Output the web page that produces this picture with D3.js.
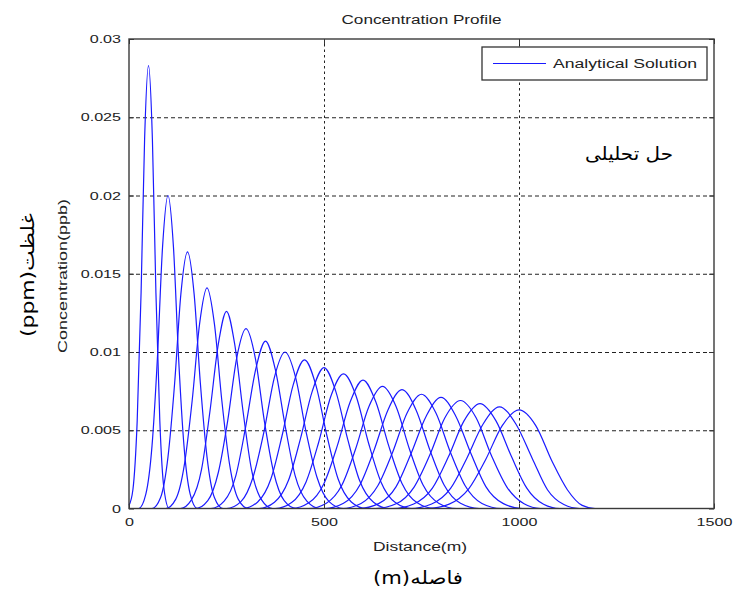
<!DOCTYPE html>
<html>
<head>
<meta charset="utf-8">
<script src="https://cdn.jsdelivr.net/npm/d3@7"></script>
<style>
  html, body { margin: 0; padding: 0; background: #fff; }
  svg { display: block; }
</style>
</head>
<body>
<svg id="chart" width="734" height="592"></svg>
<script>
// ---------------- data ----------------
const xTicks = [0, 500, 1000, 1500];
const xTickLabels = ["0", "500", "1000", "1500"];
const yTicks = [0, 0.005, 0.01, 0.015, 0.02, 0.025, 0.03];
const yTickLabels = ["0", "0.005", "0.01", "0.015", "0.02", "0.025", "0.03"];
const seriesName = "Analytical Solution";

// concentration profiles, [distance (m), concentration] points of each pulse
const profile050 = [[0,0.0002],[10,0.0012],[21,0.0056],[31,0.0138],[40,0.0236],[50,0.0283],[60,0.0236],[69,0.0138],[79,0.0056],[90,0.0012],[103,0]];
const profile100 = [[25,0],[43,0.0009],[59,0.0040],[73,0.0097],[86,0.0167],[100,0.0200],[114,0.0167],[127,0.0097],[141,0.0040],[157,0.0009],[175,0]];
const profile150 = [[59,0],[81,0.0007],[100,0.0033],[117,0.0080],[133,0.0137],[150,0.0164],[167,0.0137],[183,0.0080],[200,0.0033],[219,0.0007],[241,0]];
const profile200 = [[94,0],[120,0.0006],[142,0.0028],[162,0.0069],[181,0.0118],[200,0.0141],[219,0.0118],[238,0.0069],[258,0.0028],[280,0.0006],[306,0]];
const profile250 = [[132,0],[160,0.00055],[186,0.0025],[207,0.0061],[229,0.0105],[250,0.0126],[271,0.0105],[293,0.0061],[314,0.0025],[340,0.00055],[368,0]];
const profile300 = [[171,0],[202,0.0005],[229,0.0023],[253,0.0056],[276,0.0096],[300,0.0115],[324,0.0096],[347,0.0056],[371,0.0023],[398,0.0005],[429,0]];
const profile350 = [[210,0],[244,0.00047],[274,0.0021],[299,0.0052],[325,0.0089],[350,0.0107],[375,0.0089],[401,0.0052],[426,0.0021],[456,0.00047],[490,0]];
const profile400 = [[250,0],[287,0.00044],[318,0.0020],[346,0.0049],[373,0.0084],[400,0.0100],[427,0.0084],[454,0.0049],[482,0.0020],[513,0.00044],[550,0]];
const profile450 = [[292,0],[330,0.00042],[364,0.0019],[392,0.0046],[421,0.0079],[450,0.0095],[479,0.0079],[508,0.0046],[536,0.0019],[570,0.00042],[608,0]];
const profile500 = [[333,0],[373,0.0004],[409,0.0018],[439,0.0044],[470,0.0075],[500,0.0090],[530,0.0075],[561,0.0044],[591,0.0018],[627,0.0004],[667,0]];
const profile550 = [[375,0],[417,0.00038],[454,0.0017],[486,0.0042],[518,0.0072],[550,0.0086],[582,0.0072],[614,0.0042],[646,0.0017],[683,0.00038],[725,0]];
const profile600 = [[417,0],[461,0.00036],[500,0.0016],[534,0.0040],[567,0.0068],[600,0.0082],[633,0.0068],[666,0.0040],[700,0.0016],[739,0.00036],[783,0]];
const profile650 = [[460,0],[506,0.00034],[546,0.0015],[581,0.0038],[615,0.0065],[650,0.0078],[685,0.0065],[719,0.0038],[754,0.0015],[794,0.00034],[840,0]];
const profile700 = [[502,0],[550,0.00033],[592,0.0015],[628,0.0037],[664,0.0063],[700,0.0076],[736,0.0063],[772,0.0037],[808,0.0015],[850,0.00033],[898,0]];
const profile750 = [[545,0],[595,0.00032],[638,0.00145],[676,0.0036],[713,0.0061],[750,0.0073],[787,0.0061],[824,0.0036],[862,0.00145],[905,0.00032],[955,0]];
const profile800 = [[589,0],[640,0.00031],[685,0.0014],[723,0.0035],[762,0.0059],[800,0.0071],[838,0.0059],[877,0.0035],[915,0.0014],[960,0.00031],[1008,0]];
const profile850 = [[632,0],[685,0.0003],[731,0.00137],[771,0.0034],[810,0.0058],[850,0.0069],[890,0.0058],[929,0.0034],[969,0.00137],[1013,0.0003],[1055,0]];
const profile900 = [[676,0],[730,0.00029],[778,0.0013],[819,0.0033],[859,0.0056],[900,0.0067],[941,0.0056],[981,0.0033],[1020,0.0013],[1063,0.00027],[1105,0]];
const profile950 = [[720,0],[776,0.00029],[825,0.0013],[866,0.0032],[908,0.0054],[950,0.0065],[992,0.0054],[1034,0.0032],[1073,0.0012],[1115,0.00025],[1155,0]];
const profile1000 = [[764,0],[821,0.00028],[871,0.00125],[914,0.0031],[957,0.0053],[1000,0.0063],[1043,0.0053],[1085,0.0030],[1124,0.0012],[1162,0.0002],[1195,0]];
const profiles = [profile050, profile100, profile150, profile200, profile250, profile300, profile350,
  profile400, profile450, profile500, profile550, profile600, profile650, profile700, profile750,
  profile800, profile850, profile900, profile950, profile1000];

// ---------------- layout ----------------
const svg = d3.select("#chart");
const L = 129, R = 714, T = 39, B = 508.5;
const W = R - L, H = B - T;
const x = d3.scaleLinear().domain([0, 1500]).range([L, R]);
const y = d3.scaleLinear().domain([0, 0.03]).range([B, T]);
const FONT = "'Liberation Sans', Arial, Helvetica, sans-serif";
const FA_FONT = "'DejaVu Sans', 'Noto Sans', sans-serif";
const SX = 1.4; // text in the reference is drawn wide

// plot background
svg.append("rect").attr("x", L).attr("y", T).attr("width", W).attr("height", H).attr("fill", "#fff");

// grid lines (dashed) through the library's axes
const gridY = svg.append("g").attr("transform", `translate(${L},0)`)
  .call(d3.axisLeft(y).tickValues(yTicks.slice(1, -1)).tickSize(-W).tickFormat(""));
gridY.select(".domain").remove();
gridY.selectAll("line").attr("stroke", "#222").attr("stroke-width", 1).attr("stroke-dasharray", "4,3");
const gridX = svg.append("g").attr("transform", `translate(0,${B})`)
  .call(d3.axisBottom(x).tickValues(xTicks.slice(1, -1)).tickSize(-H).tickFormat(""));
gridX.select(".domain").remove();
gridX.selectAll("line").attr("stroke", "#222").attr("stroke-width", 1).attr("stroke-dasharray", "2.5,3");

// curves
const line = d3.line().x(d => x(d[0])).y(d => y(d[1])).curve(d3.curveMonotoneX);
const curveG = svg.append("g");
profiles.forEach(p => {
  const pts = (p[0][0] > 0 ? [[0, 0]] : []).concat(p, [[1500, 0]]);
  curveG.append("path").datum(pts).attr("d", line)
    .attr("fill", "none").attr("stroke", "#1a1aff").attr("stroke-width", 1.2)
    .attr("stroke-linejoin", "round");
});

// axes with labels
const yAxis = svg.append("g").attr("transform", `translate(${L},0)`)
  .call(d3.axisLeft(y).tickValues(yTicks).tickFormat((d, i) => yTickLabels[i]).tickSizeInner(-5).tickSizeOuter(0).tickPadding(8));
yAxis.select(".domain").remove();
yAxis.selectAll("line").attr("stroke", "#333");
yAxis.selectAll("text").attr("x", null).attr("transform", `translate(-8,0) scale(${SX},1)`)
  .attr("font-family", FONT).attr("font-size", "11.5px").attr("fill", "#222");

const xAxis = svg.append("g").attr("transform", `translate(0,${B})`)
  .call(d3.axisBottom(x).tickValues(xTicks).tickFormat((d, i) => xTickLabels[i]).tickSizeInner(-5).tickSizeOuter(0).tickPadding(9));
xAxis.select(".domain").remove();
xAxis.selectAll("line").attr("stroke", "#333");
xAxis.selectAll("text").attr("y", null).attr("transform", `translate(0,9) scale(${SX},1)`)
  .attr("font-family", FONT).attr("font-size", "11.5px").attr("fill", "#222");

// ticks on top and right sides
const topAxis = svg.append("g").attr("transform", `translate(0,${T})`)
  .call(d3.axisTop(x).tickValues(xTicks).tickSizeInner(-5).tickSizeOuter(0).tickFormat(""));
topAxis.select(".domain").remove();
topAxis.selectAll("line").attr("stroke", "#333");
const rightAxis = svg.append("g").attr("transform", `translate(${R},0)`)
  .call(d3.axisRight(y).tickValues(yTicks).tickSizeInner(-5).tickSizeOuter(0).tickFormat(""));
rightAxis.select(".domain").remove();
rightAxis.selectAll("line").attr("stroke", "#333");

// frame
svg.append("rect").attr("x", L).attr("y", T).attr("width", W).attr("height", H)
  .attr("fill", "none").attr("stroke", "#3a3a3a").attr("stroke-width", 1.4);

// title and axis labels
svg.append("text").attr("x", 421.5).attr("y", 24).attr("text-anchor", "middle")
  .attr("font-family", FONT).attr("font-size", "12.5px").attr("fill", "#222")
  .attr("textLength", 160).attr("lengthAdjust", "spacingAndGlyphs")
  .text("Concentration Profile");
svg.append("text").attr("x", 420).attr("y", 551).attr("text-anchor", "middle")
  .attr("font-family", FONT).attr("font-size", "12.5px").attr("fill", "#222")
  .attr("textLength", 94).attr("lengthAdjust", "spacingAndGlyphs")
  .text("Distance(m)");
svg.append("text").attr("transform", "translate(67,276) rotate(-90)").attr("text-anchor", "middle")
  .attr("font-family", FONT).attr("font-size", "13px").attr("fill", "#222")
  .attr("textLength", 154).attr("lengthAdjust", "spacingAndGlyphs")
  .text("Concentration(ppb)");

// Persian labels
svg.append("text").attr("x", 418).attr("y", 584).attr("text-anchor", "middle")
  .attr("direction", "rtl").attr("font-family", FA_FONT).attr("font-size", "18px").attr("fill", "#000")
  .attr("textLength", 90).attr("lengthAdjust", "spacingAndGlyphs")
  .text("فاصله(m)");
svg.append("text").attr("transform", "translate(34,275) rotate(-90)").attr("text-anchor", "middle")
  .attr("direction", "rtl").attr("font-family", FA_FONT).attr("font-size", "18px").attr("fill", "#000")
  .attr("textLength", 124).attr("lengthAdjust", "spacingAndGlyphs")
  .text("غلظت(ppm)");
svg.append("text").attr("x", 629).attr("y", 160).attr("text-anchor", "middle")
  .attr("direction", "rtl").attr("font-family", FA_FONT).attr("font-size", "18px").attr("fill", "#000")
  .attr("textLength", 88).attr("lengthAdjust", "spacingAndGlyphs")
  .text("حل تحلیلی");

// legend
const lg = svg.append("g");
lg.append("rect").attr("x", 482).attr("y", 47).attr("width", 225).attr("height", 33)
  .attr("fill", "#fff").attr("stroke", "#333").attr("stroke-width", 1.3);
lg.append("line").attr("x1", 493).attr("x2", 546).attr("y1", 63.5).attr("y2", 63.5)
  .attr("stroke", "#1a1aff").attr("stroke-width", 1.2);
lg.append("text").attr("x", 553).attr("y", 68).attr("font-family", FONT).attr("font-size", "12px")
  .attr("fill", "#222").attr("textLength", 144).attr("lengthAdjust", "spacingAndGlyphs")
  .text(seriesName);
</script>
</body>
</html>
